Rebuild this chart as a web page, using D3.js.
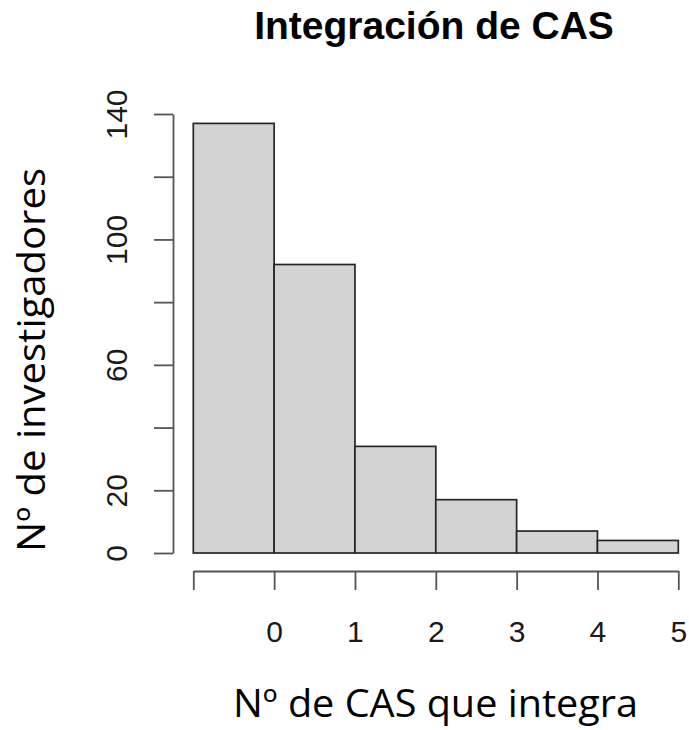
<!DOCTYPE html>
<html>
<head>
<meta charset="utf-8">
<script src="https://cdn.jsdelivr.net/npm/d3@7"></script>
<style>
  html, body { margin: 0; padding: 0; background: #ffffff; }
  svg { display: block; }
</style>
</head>
<body>
<svg id="chart" width="689" height="730"></svg>
<script>
// ---- data ----
const binEdges = [-1, 0, 1, 2, 3, 4, 5];
const counts = [137, 92, 34, 17, 7, 4];
const xTicks = [-1, 0, 1, 2, 3, 4, 5];
const xTickLabels = ["", "0", "1", "2", "3", "4", "5"];
const yTicks = [0, 20, 40, 60, 80, 100, 120, 140];
const yTickLabels = ["0", "20", "", "60", "", "100", "", "140"];
const titleText = "Integración de CAS";
const xLabelText = "Nº de CAS que integra";
const yLabelText = "Nº de investigadores";

const svg = d3.select("#chart");

const x = d3.scaleLinear().domain([-1, 5]).range([193.3, 678.3]);
const y = d3.scaleLinear().domain([0, 140]).range([553, 114]);

// bars
const bins = counts.map((c, i) => ({ x0: binEdges[i], x1: binEdges[i + 1], n: c }));
svg.append("g").selectAll("rect").data(bins).join("rect")
  .attr("x", d => x(d.x0))
  .attr("width", d => x(d.x1) - x(d.x0))
  .attr("y", d => y(d.n))
  .attr("height", d => y(0) - y(d.n))
  .attr("fill", "#d3d3d3")
  .attr("stroke", "#262626")
  .attr("stroke-width", 1.7);

// y axis
const yAxis = svg.append("g")
  .attr("transform", "translate(173,0)")
  .call(d3.axisLeft(y).tickValues(yTicks).tickSize(19).tickSizeOuter(0)
    .tickFormat((d, i) => yTickLabels[i]));
yAxis.selectAll("path, line").attr("stroke", "#555").attr("stroke-width", 1.8);
yAxis.selectAll("text")
  .attr("transform", "rotate(-90)")
  .attr("x", 0).attr("y", -46).attr("dy", 0)
  .attr("text-anchor", "middle")
  .attr("fill", "#1a1a1a")
  .style("font-family", "'Liberation Sans', Arial, sans-serif")
  .style("font-size", "30px");

// x axis
const xAxis = svg.append("g")
  .attr("transform", "translate(0,571)")
  .call(d3.axisBottom(x).tickValues(xTicks).tickSize(19).tickSizeOuter(0)
    .tickFormat((d, i) => xTickLabels[i]));
xAxis.selectAll("path, line").attr("stroke", "#555").attr("stroke-width", 1.8);
xAxis.selectAll("text")
  .attr("y", 71).attr("dy", 0)
  .attr("fill", "#1a1a1a")
  .style("font-family", "'Liberation Sans', Arial, sans-serif")
  .style("font-size", "30px");

// title
svg.append("text")
  .attr("x", 434).attr("y", 39)
  .attr("text-anchor", "middle")
  .style("font-family", "'Liberation Sans', Arial, sans-serif")
  .style("font-weight", "bold")
  .style("font-size", "39px")
  .attr("fill", "#000")
  .text(titleText);

// x label
svg.append("text")
  .attr("x", 435.5).attr("y", 717)
  .attr("text-anchor", "middle")
  .attr("textLength", 405)
  .attr("lengthAdjust", "spacingAndGlyphs")
  .style("font-family", "'Open Sans', 'Noto Sans', sans-serif")
  .style("font-size", "39px")
  .attr("fill", "#000")
  .text(xLabelText);

// y label
svg.append("text")
  .attr("transform", "translate(45,360) rotate(-90)")
  .attr("text-anchor", "middle")
  .attr("textLength", 384)
  .attr("lengthAdjust", "spacingAndGlyphs")
  .style("font-family", "'Open Sans', 'Noto Sans', sans-serif")
  .style("font-size", "38px")
  .attr("fill", "#000")
  .text(yLabelText);
</script>
</body>
</html>
